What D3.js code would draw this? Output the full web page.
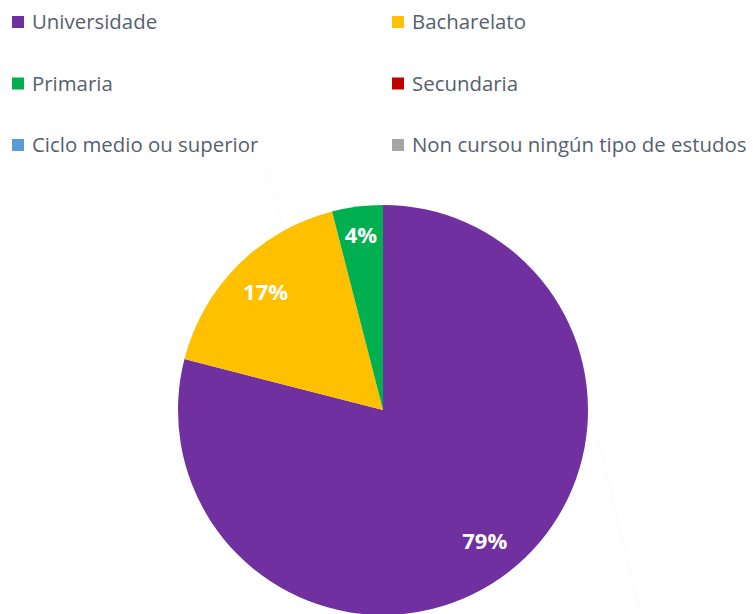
<!DOCTYPE html>
<html>
<head>
<meta charset="utf-8">
<script src="https://cdn.jsdelivr.net/npm/d3@7"></script>
<style>
  body { margin: 0; background: #fff; }
  svg { font-family: "Open Sans", "Noto Sans", sans-serif; }
</style>
</head>
<body>
<svg width="753" height="614"></svg>
<script>
// Data
var categories = ["Universidade", "Bacharelato", "Primaria", "Secundaria",
                  "Ciclo medio ou superior", "Non cursou ningún tipo de estudos"];
var values = [79, 17, 4, 0, 0, 0];
var colors = ["#7030A0", "#FFC000", "#00B050", "#C00000", "#5B9BD5", "#A5A5A5"];

var width = 753, height = 614;
var cx = 383, cy = 410, radius = 205;

var svg = d3.select("svg");

// Legend (two columns, three rows)
var legend = svg.append("g");
var item = legend.selectAll("g")
    .data(categories)
    .join("g")
    .attr("transform", function(d, i) {
        var col = i % 2, row = Math.floor(i / 2);
        return "translate(" + (12 + col * 380) + "," + (22 + row * 61.5) + ")";
    });
item.append("rect")
    .attr("x", 0).attr("y", -6)
    .attr("width", 12).attr("height", 12)
    .attr("fill", function(d, i) { return colors[i]; });
item.append("text")
    .attr("x", 20).attr("y", 0)
    .attr("dy", "0.35em")
    .attr("font-size", 20.4)
    .attr("fill", "#56606d")
    .text(function(d) { return d; });

// Pie
var pie = d3.pie().sort(null).value(function(d) { return d; });
var arcs = pie(values);
var arc = d3.arc().innerRadius(0).outerRadius(radius);

var g = svg.append("g").attr("transform", "translate(" + cx + "," + cy + ")");

// faint leader lines for zero-value slices
g.append("line")
    .attr("x1", -120).attr("y1", -250).attr("x2", -88).attr("y2", -150)
    .attr("stroke", "#ececec").attr("stroke-dasharray", "1,3");
g.append("line")
    .attr("x1", 215).attr("y1", 30).attr("x2", 258).attr("y2", 204)
    .attr("stroke", "#ececec").attr("stroke-dasharray", "1,3");

g.selectAll("path")
    .data(arcs)
    .join("path")
    .attr("d", arc)
    .attr("fill", function(d, i) { return colors[i]; });

g.selectAll("text.lbl")
    .data(arcs.filter(function(d) { return d.value > 0; }))
    .join("text")
    .attr("class", "lbl")
    .attr("transform", function(d) {
        // narrow slices get their label pushed further out
        var r = (d.endAngle - d.startAngle) < 0.5 ? radius * 0.86 : radius * 0.81;
        var a = (d.startAngle + d.endAngle) / 2;
        return "translate(" + (Math.sin(a) * r) + "," + (-Math.cos(a) * r) + ")";
    })
    .attr("text-anchor", "middle")
    .attr("dy", "0.35em")
    .attr("font-size", 22)
    .attr("font-weight", "bold")
    .attr("fill", "#fff")
    .text(function(d) { return d.value + "%"; });
</script>
</body>
</html>
